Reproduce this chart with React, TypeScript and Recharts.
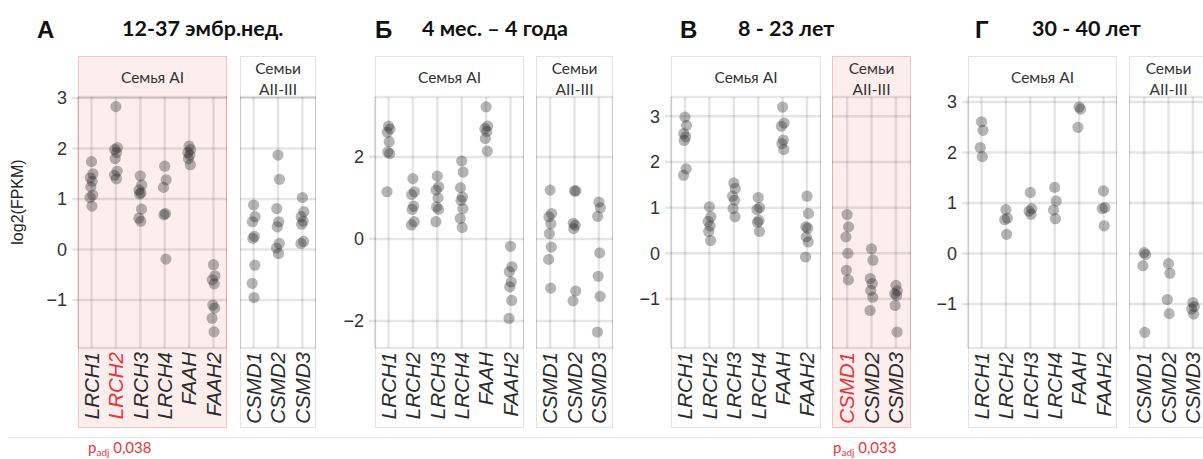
import React from 'react';
import { ScatterChart, Scatter, XAxis, YAxis, CartesianGrid } from 'recharts';

// gene groups
const genesAI = ['LRCH1', 'LRCH2', 'LRCH3', 'LRCH4', 'FAAH', 'FAAH2'];
const genesAII = ['CSMD1', 'CSMD2', 'CSMD3'];

// А: 12-37 embryonic weeks, log2(FPKM) per sample
const embrAI = [
  [1.74, 1.5, 1.42, 1.35, 1.24, 1.08, 1.03, 0.86],
  [2.83, 2.02, 1.98, 1.92, 1.8, 1.55, 1.47, 1.4],
  [1.46, 1.28, 1.18, 1.12, 1.1, 0.8, 0.62, 0.56],
  [1.65, 1.38, 1.23, 0.71, 0.69, -0.19],
  [2.05, 1.98, 1.92, 1.87, 1.8, 1.68],
  [-0.3, -0.52, -0.6, -0.68, -1.1, -1.16, -1.36, -1.63],
];
const embrAII = [
  [0.88, 0.65, 0.55, 0.26, 0.22, -0.31, -0.67, -0.95],
  [1.87, 1.39, 0.81, 0.55, 0.45, 0.12, 0.03, -0.08],
  [1.03, 0.75, 0.65, 0.56, 0.5, 0.16, 0.12],
];

// Б: 4 months - 4 years
const infantAI = [
  [2.75, 2.68, 2.6, 2.37, 2.12, 2.08, 1.15],
  [1.47, 1.15, 1.08, 0.8, 0.72, 0.42, 0.34],
  [1.53, 1.27, 1.19, 1.0, 0.78, 0.72, 0.42],
  [1.9, 1.63, 1.25, 1.02, 0.94, 0.74, 0.5, 0.28],
  [3.22, 2.75, 2.69, 2.62, 2.45, 2.14],
  [-0.18, -0.68, -0.8, -1.05, -1.17, -1.5, -1.94],
];
const infantAII = [
  [1.19, 0.62, 0.54, 0.37, 0.13, -0.2, -0.5, -1.2],
  [1.17, 1.17, 0.38, 0.33, 0.25, -1.27, -1.51],
  [0.9, 0.76, 0.55, -0.34, -0.91, -1.4, -2.27],
];

// В: 8 - 23 years
const youthAI = [
  [2.98, 2.8, 2.62, 2.55, 2.47, 1.85, 1.71],
  [1.02, 0.8, 0.7, 0.6, 0.48, 0.28],
  [1.54, 1.42, 1.25, 1.16, 0.98, 0.8],
  [1.22, 1.0, 0.96, 0.72, 0.68, 0.48],
  [3.2, 2.85, 2.78, 2.48, 2.4, 2.27],
  [1.25, 0.87, 0.58, 0.55, 0.36, 0.25, -0.08],
];
const youthAII = [
  [0.85, 0.58, 0.36, 0.0, -0.37, -0.58],
  [0.1, -0.15, -0.55, -0.66, -0.81, -0.96, -1.25],
  [-0.7, -0.82, -0.88, -0.92, -1.14, -1.72],
];

// Г: 30 - 40 years
const adultAI = [
  [2.61, 2.44, 2.1, 1.92],
  [0.87, 0.7, 0.67, 0.38],
  [1.21, 0.89, 0.84, 0.78],
  [1.31, 1.04, 0.86, 0.69],
  [2.9, 2.86, 2.5],
  [1.24, 0.91, 0.89, 0.55],
];
const adultAII = [
  [0.02, -0.02, -0.24, -1.56],
  [-0.2, -0.39, -0.91, -1.19],
  [-0.97, -1.05, -1.1, -1.2],
];

const ticksFine = [3, 2, 1, 0, -1];
const ticksCoarse = [2, 0, -2];

const JITTER = [0, 0.06, -0.05, 0.03, -0.03, 0.05, -0.06, 0.02];
const RED = '#e8353a';
const H = 459;
const PLOT_TOP = 97;
const PLOT_BOTTOM = 348;
const AXIS_H = 80;
const Y_W = 40;
const PX_PER_CAT = 24.4;

type FacetProps = {
  left: number;
  width: number;
  genes: string[];
  values: number[][];
  domain: [number, number];
  ticks: number[];
  showY: boolean;
  highlight: boolean;
  redGene?: string;
  strip: string[];
};

const GeneTick = (props: any) => {
  const { x, payload, genes, redGene } = props;
  const name = genes[payload.value];
  return (
    <text
      transform={`translate(${x},${PLOT_BOTTOM + 4}) rotate(-90)`}
      textAnchor="end"
      dy="0.36em"
      fontSize={20.5}
      fontStyle="italic"
      fontFamily="'Liberation Sans', Arial, sans-serif"
      fill={name === redGene ? RED : '#2b2b2b'}
    >
      {name}
    </text>
  );
};

const dot = (p: any) => <circle cx={p.cx} cy={p.cy} r={5.6} fill="#222" fillOpacity={0.33} />;

const Facet: React.FC<FacetProps> = ({ left, width, genes, values, domain, ticks, showY, highlight, redGene, strip }) => {
  const rows = values.flatMap((vals, gi) => vals.map((v, k) => ({ x: gi + JITTER[k % JITTER.length], y: v })));
  const pad = (width / PX_PER_CAT - (genes.length - 1)) / 2;
  const chartW = width + (showY ? Y_W : 0);
  return (
    <>
      <div
        style={{
          position: 'absolute', left, top: 56, width: width - 2, height: 428 - 56 - 2,
          background: highlight ? '#fdeeee' : '#fff',
          border: `1px solid ${highlight ? '#f3c4c4' : '#e2e2e2'}`,
        }}
      >
        <div
          style={{
            position: 'absolute', left: 0, right: 0, top: strip.length > 1 ? 1 : 10,
            textAlign: 'center', fontFamily: 'Lato, sans-serif', fontSize: 15.5, lineHeight: '21px', color: '#333',
          }}
        >
          {strip.map((s) => <div key={s}>{s}</div>)}
        </div>
      </div>
      <div style={{ position: 'absolute', left: left - (showY ? Y_W : 0), top: 0 }}>
        <ScatterChart width={chartW} height={H} margin={{ top: PLOT_TOP, right: 0, bottom: H - PLOT_BOTTOM - AXIS_H, left: 0 }}>
          <CartesianGrid stroke="#000" strokeOpacity={0.1} strokeWidth={2.5} />
          <XAxis
            type="number"
            dataKey="x"
            domain={[-pad, genes.length - 1 + pad]}
            ticks={genes.map((_, i) => i)}
            interval={0}
            allowDataOverflow
            axisLine={false}
            tickLine={false}
            height={AXIS_H}
            tick={<GeneTick genes={genes} redGene={redGene} />}
          />
          <YAxis
            type="number"
            dataKey="y"
            domain={domain}
            ticks={ticks}
            interval={0}
            allowDataOverflow
            hide={!showY}
            width={Y_W}
            axisLine={false}
            tickLine={{ stroke: '#000', strokeOpacity: 0.1, strokeWidth: 2.5 }}
            tickSize={6}
            tickMargin={5}
            tick={{ fontSize: 18, fill: '#333', fontFamily: "'Liberation Sans', Arial, sans-serif" }}
            tickFormatter={(v: number) => (v < 0 ? `\u2212${Math.abs(v)}` : `${v}`)}
          />
          <Scatter data={rows} shape={dot} isAnimationActive={false} />
        </ScatterChart>
      </div>
    </>
  );
};

const titleFont = { fontFamily: 'Lato, sans-serif', fontWeight: 700, fontSize: 21.5, color: '#111' } as const;
const letterFont = { fontFamily: "'Liberation Sans', Arial, sans-serif", fontWeight: 700, fontSize: 24, color: '#111' } as const;

const Padj: React.FC<{ left: number; value: string }> = ({ left, value }) => (
  <div style={{ position: 'absolute', left, top: 439, color: RED, fontFamily: 'Lato, sans-serif', fontSize: 15, lineHeight: '16px', whiteSpace: 'nowrap' }}>
    p<span style={{ fontSize: 10, position: 'relative', top: 3 }}>adj</span> {value}
  </div>
);

export default function App() {
  const strip1 = ['Семья AI'];
  const strip2 = ['Семьи', 'AII-III'];
  return (
    <div style={{ position: 'fixed', left: 0, top: 0, width: 1203, height: H, background: '#fff', overflow: 'hidden' }}>
      {/* panel titles */}
      <div style={{ position: 'absolute', left: 37, top: 16, ...letterFont }}>А</div>
      <div style={{ position: 'absolute', left: 122, top: 15, ...titleFont }}>12-37 эмбр.нед.</div>
      <div style={{ position: 'absolute', left: 375, top: 16, ...letterFont }}>Б</div>
      <div style={{ position: 'absolute', left: 422, top: 15, ...titleFont }}>4 мес. – 4 года</div>
      <div style={{ position: 'absolute', left: 680, top: 16, ...letterFont }}>В</div>
      <div style={{ position: 'absolute', left: 738, top: 15, ...titleFont }}>8 - 23 лет</div>
      <div style={{ position: 'absolute', left: 975, top: 16, ...letterFont }}>Г</div>
      <div style={{ position: 'absolute', left: 1032, top: 15, ...titleFont }}>30 - 40 лет</div>

      <div
        style={{
          position: 'absolute', left: 18, top: 202, transform: 'translate(-50%, -50%) rotate(-90deg)',
          fontFamily: "'Liberation Sans', Arial, sans-serif", fontSize: 16, color: '#222', whiteSpace: 'nowrap',
        }}
      >
        log2(FPKM)
      </div>

      <Facet left={78} width={149} genes={genesAI} values={embrAI} domain={[-1.95, 3.02]} ticks={ticksFine} showY highlight redGene="LRCH2" strip={strip1} />
      <Facet left={240} width={76} genes={genesAII} values={embrAII} domain={[-1.95, 3.02]} ticks={ticksFine} showY={false} highlight={false} strip={strip2} />

      <Facet left={375} width={149} genes={genesAI} values={infantAI} domain={[-2.66, 3.46]} ticks={ticksCoarse} showY highlight={false} strip={strip1} />
      <Facet left={536} width={77} genes={genesAII} values={infantAII} domain={[-2.66, 3.46]} ticks={ticksCoarse} showY={false} highlight={false} strip={strip2} />

      <Facet left={671} width={150} genes={genesAI} values={youthAI} domain={[-2.07, 3.42]} ticks={ticksFine} showY highlight={false} strip={strip1} />
      <Facet left={832} width={79} genes={genesAII} values={youthAII} domain={[-2.07, 3.42]} ticks={ticksFine} showY={false} highlight redGene="CSMD1" strip={strip2} />

      <Facet left={968} width={149} genes={genesAI} values={adultAI} domain={[-1.87, 3.1]} ticks={ticksFine} showY highlight={false} strip={strip1} />
      <Facet left={1129} width={79} genes={genesAII} values={adultAII} domain={[-1.87, 3.1]} ticks={ticksFine} showY={false} highlight={false} strip={strip2} />

      <div style={{ position: 'absolute', left: 8, right: 0, top: 437, height: 1, background: '#e6e6e6' }} />
      <Padj left={88} value="0,038" />
      <Padj left={833} value="0,033" />
    </div>
  );
}
